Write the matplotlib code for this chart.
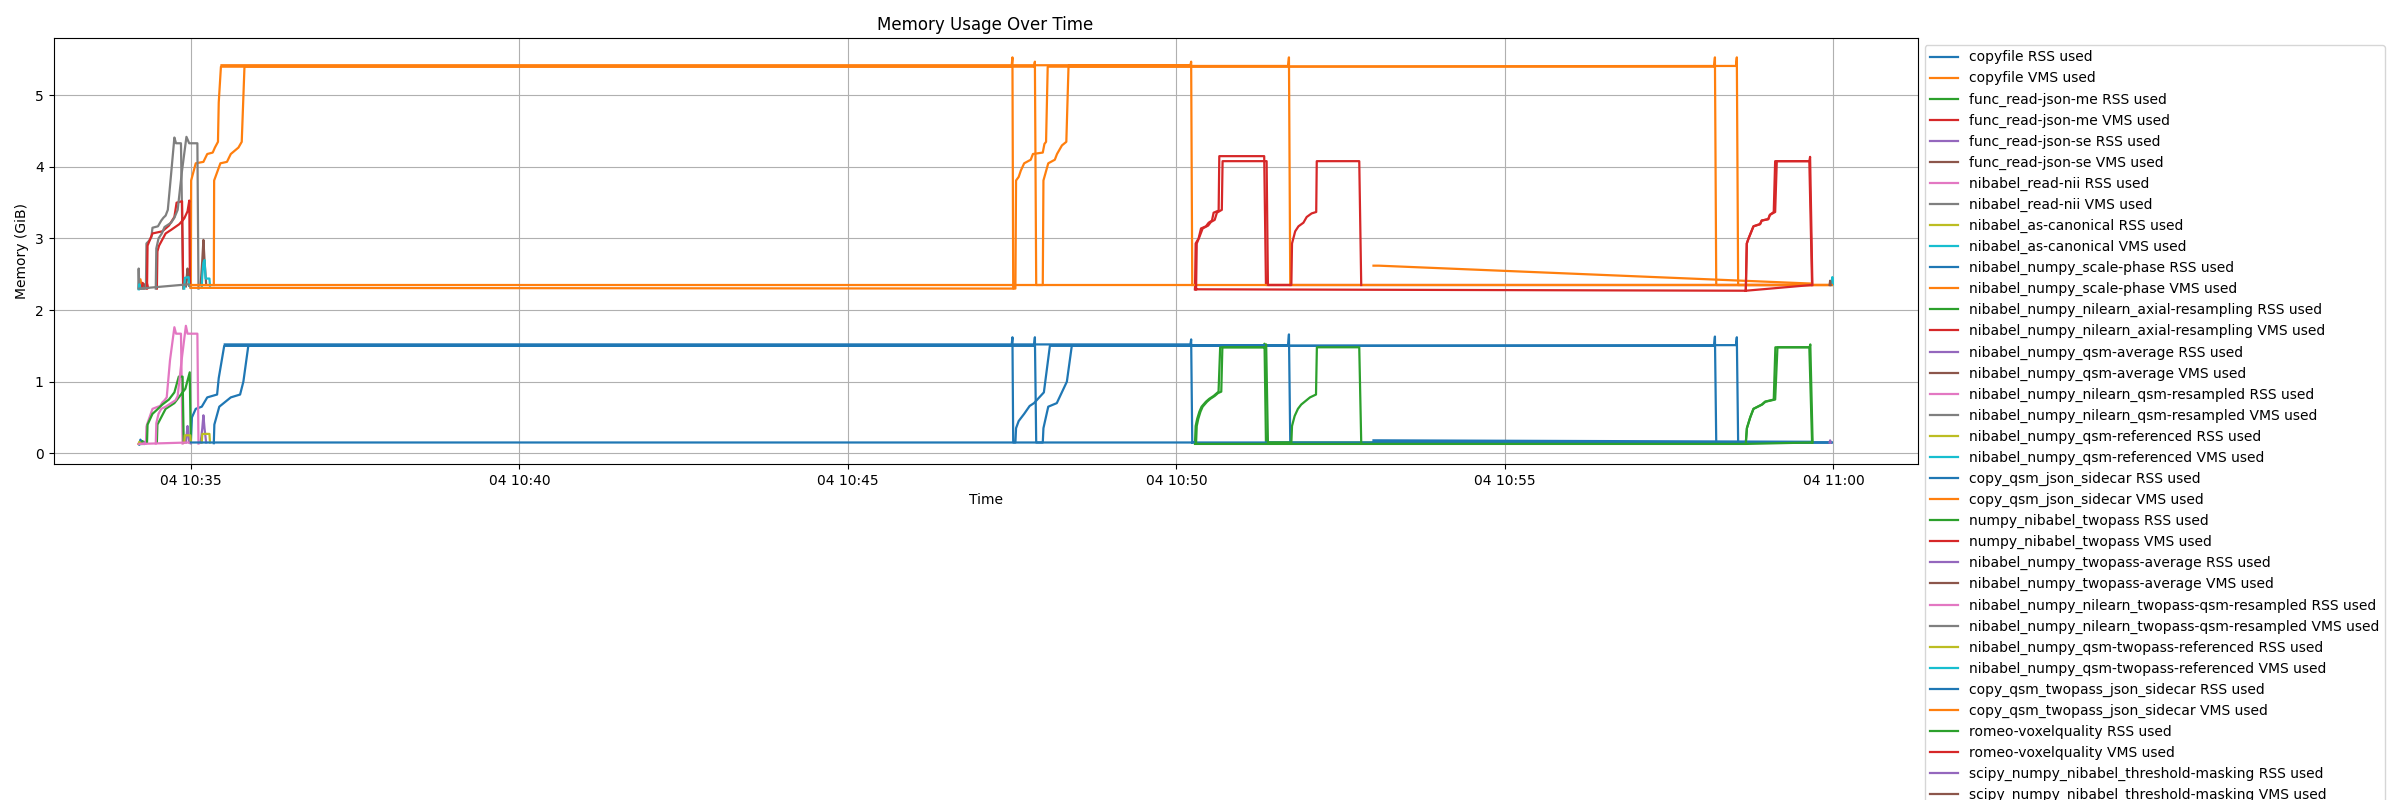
"""Memory usage of the pipeline steps over one run, RSS and VMS per process."""

import matplotlib
matplotlib.use("Agg")
import matplotlib.pyplot as plt
import numpy as np
import pandas as pd

DAY = "2024-06-04"
GAP = None  # missing sample -> break in the line

# (time, GiB) samples per process
COPYFILE_RSS = [("10:34:13", 0.12), ("10:34:14", 0.19), ("10:34:15", 0.14)]
COPYFILE_VMS = [("10:34:13", 2.30), ("10:34:14", 2.43), ("10:34:15.5", 2.31)]

JSON_ME_RSS = [("10:34:15", 0.13), ("10:34:16", 0.17), ("10:34:17", 0.14)]
JSON_ME_VMS = [("10:34:15", 2.30), ("10:34:16", 2.38), ("10:34:18", 2.33),
               ("10:34:20", 2.37), ("10:34:21", 2.31)]

JSON_SE_RSS = [("10:34:17", 0.13), ("10:34:18", 0.16), ("10:34:19", 0.14)]
JSON_SE_VMS = [("10:34:17", 2.30), ("10:34:18", 2.36), ("10:34:19", 2.31)]

READ_NII_RSS = [("10:34:12", 0.13), ("10:34:19", 0.135), ("10:34:19.5", 0.37),
                ("10:34:20", 0.40), ("10:34:25", 0.62), ("10:34:30", 0.65),
                ("10:34:32", 0.66), ("10:34:34", 0.71), ("10:34:36", 0.74),
                ("10:34:38", 0.78), ("10:34:41", 1.30), ("10:34:45", 1.76),
                ("10:34:46.5", 1.67), ("10:34:51", 1.67), ("10:34:52.5", 0.135)]
READ_NII_VMS = [("10:34:12", 2.30), ("10:34:12.4", 2.58), ("10:34:13", 2.30),
                ("10:34:19", 2.30), ("10:34:19.5", 2.93), ("10:34:22", 2.97),
                ("10:34:24", 3.02), ("10:34:25", 3.15), ("10:34:30", 3.17),
                ("10:34:33", 3.25), ("10:34:35", 3.29), ("10:34:37", 3.32),
                ("10:34:39", 3.40), ("10:34:42", 3.90), ("10:34:45", 4.41),
                ("10:34:46.5", 4.33), ("10:34:51", 4.33), ("10:34:53", 2.30)]

CANONICAL_RSS = [("10:34:12.5", 0.13), ("10:34:13", 0.16), ("10:34:14", 0.14)]
CANONICAL_VMS = [("10:34:12.5", 2.29), ("10:34:13", 2.36), ("10:34:14", 2.30),
                 ("10:34:15", GAP),
                 ("10:59:58.5", 2.35), ("10:59:59", 2.46), ("10:59:59.5", 2.36)]

SCALE_PHASE_RSS = [("10:35:00", 0.14), ("10:35:01", 0.50), ("10:35:04.5", 0.62),
                   ("10:35:10", 0.65), ("10:35:15", 0.78), ("10:35:24", 0.82),
                   ("10:35:25.5", 1.05), ("10:35:30.5", 1.50), ("10:47:29.5", 1.50),
                   ("10:47:30.3", 1.62), ("10:47:31", 0.15), ("10:47:33", 0.15),
                   ("10:47:33.6", 0.35), ("10:47:36", 0.45), ("10:47:41", 0.55),
                   ("10:47:46", 0.66), ("10:47:50", 0.70), ("10:47:59", 0.85),
                   ("10:48:04.5", 1.50), ("10:58:11", 1.50), ("10:58:11.8", 1.63),
                   ("10:58:13", 0.15), ("10:59:58.5", 0.15)]
SCALE_PHASE_VMS = [("10:35:00", 2.31), ("10:35:00.3", 3.81), ("10:35:04.5", 4.05),
                   ("10:35:11.5", 4.07), ("10:35:15", 4.18), ("10:35:20", 4.20),
                   ("10:35:22", 4.27), ("10:35:24.8", 4.35), ("10:35:25.5", 4.90),
                   ("10:35:27.5", 5.40), ("10:47:29.5", 5.40), ("10:47:30.3", 5.53),
                   ("10:47:31", 2.30), ("10:47:33", 2.30), ("10:47:33.6", 3.81),
                   ("10:47:36", 3.86), ("10:47:38", 3.95), ("10:47:41", 4.05),
                   ("10:47:47", 4.10), ("10:47:49", 4.18), ("10:47:58", 4.20),
                   ("10:47:59.5", 4.32), ("10:48:01", 4.35), ("10:48:02.5", 5.40),
                   ("10:58:11", 5.40), ("10:58:11.8", 5.53), ("10:58:13", 2.35),
                   ("10:59:58.5", 2.35)]

AXIAL_RSS = [("10:34:20", 0.15), ("10:34:20.5", 0.40), ("10:34:25", 0.55),
             ("10:34:30", 0.62), ("10:34:34", 0.68), ("10:34:40", 0.75),
             ("10:34:45", 0.85), ("10:34:49", 1.07), ("10:34:52.5", 1.07),
             ("10:34:53.5", 0.15), ("10:34:54", GAP),
             ("10:34:29", 0.15), ("10:34:29.5", 0.40), ("10:34:37", 0.62),
             ("10:34:45", 0.70), ("10:34:50", 0.80), ("10:34:55", 0.90),
             ("10:34:59", 1.13), ("10:35:00", 0.15)]
AXIAL_VMS = [("10:34:20", 2.30), ("10:34:20.5", 2.90), ("10:34:25", 3.07),
             ("10:34:34", 3.10), ("10:34:40", 3.18), ("10:34:45", 3.30),
             ("10:34:47", 3.50), ("10:34:52", 3.52), ("10:34:53", 2.35),
             ("10:34:54", GAP),
             ("10:34:29", 2.30), ("10:34:29.5", 2.82), ("10:34:31", 2.90),
             ("10:34:37", 3.07), ("10:34:42", 3.12), ("10:34:49.5", 3.20),
             ("10:34:54", 3.28), ("10:34:57", 3.38), ("10:34:58.6", 3.53),
             ("10:34:59.2", 2.35)]

QSM_AVERAGE_RSS = [("10:34:55.5", 0.15), ("10:34:56.5", 0.30), ("10:34:57", 0.38),
                   ("10:34:57.8", 0.28), ("10:34:58.5", 0.15)]
QSM_AVERAGE_VMS = [("10:34:55.5", 2.33), ("10:34:56.5", 2.50), ("10:34:57", 2.58),
                   ("10:34:57.8", 2.48), ("10:34:58.5", 2.34)]

QSM_RESAMPLED_RSS = [("10:34:28", 0.135), ("10:34:28.5", 0.42), ("10:34:30.5", 0.55),
                     ("10:34:33", 0.62), ("10:34:37", 0.65), ("10:34:43", 0.71),
                     ("10:34:46", 0.74), ("10:34:48", 0.80), ("10:34:52", 1.35),
                     ("10:34:55.5", 1.78), ("10:34:57", 1.67), ("10:35:06", 1.67),
                     ("10:35:07", 0.135)]
QSM_RESAMPLED_VMS = [("10:34:28", 2.30), ("10:34:28.5", 2.86), ("10:34:30.5", 3.00),
                     ("10:34:33.5", 3.07), ("10:34:36", 3.16), ("10:34:42", 3.22),
                     ("10:34:45", 3.29), ("10:34:48", 3.40), ("10:34:52", 3.95),
                     ("10:34:56", 4.42), ("10:34:58.5", 4.33), ("10:35:06", 4.33),
                     ("10:35:07", 2.30)]

QSM_REFERENCED_RSS = [("10:34:54", 0.15), ("10:34:54.5", 0.25), ("10:34:59.5", 0.25),
                      ("10:35:00", 0.15)]
QSM_REFERENCED_VMS = [("10:34:54", 2.30), ("10:34:54.5", 2.45), ("10:34:58", 2.46),
                      ("10:34:58.5", 2.34)]

SIDECAR_RSS = [("10:35:21", 0.14), ("10:35:21.5", 0.40), ("10:35:26", 0.65),
               ("10:35:36.5", 0.78), ("10:35:45", 0.82), ("10:35:48", 1.00),
               ("10:35:52.5", 1.50), ("10:47:50", 1.50), ("10:47:50.8", 1.62),
               ("10:47:52", 0.15), ("10:47:58", 0.15), ("10:47:58.6", 0.35),
               ("10:48:03", 0.65), ("10:48:10.8", 0.70), ("10:48:20", 1.00),
               ("10:48:24.5", 1.50), ("10:58:31", 1.51), ("10:58:31.8", 1.62),
               ("10:58:33", 0.15), ("10:59:58", 0.15)]
SIDECAR_VMS = [("10:35:21", 2.35), ("10:35:21.3", 3.81), ("10:35:27", 4.05),
               ("10:35:33", 4.07), ("10:35:36.5", 4.18), ("10:35:43.5", 4.27),
               ("10:35:46.5", 4.35), ("10:35:49", 5.40), ("10:47:50", 5.40),
               ("10:47:50.8", 5.47), ("10:47:52", 2.35), ("10:47:58", 2.35),
               ("10:47:58.6", 3.81), ("10:48:03", 4.05), ("10:48:09", 4.10),
               ("10:48:11", 4.18), ("10:48:15.5", 4.30), ("10:48:19.5", 4.35),
               ("10:48:21.5", 5.40), ("10:58:31", 5.41), ("10:58:31.8", 5.53),
               ("10:58:33", 2.35), ("10:59:58", 2.35)]

TWOPASS_RSS = [("10:50:17", 0.15), ("10:50:17.6", 0.38), ("10:50:19", 0.48),
               ("10:50:21", 0.58), ("10:50:23", 0.65), ("10:50:27", 0.72),
               ("10:50:30", 0.76), ("10:50:34", 0.80), ("10:50:37", 0.84),
               ("10:50:38.5", 0.86), ("10:50:40", 1.48), ("10:51:20", 1.48),
               ("10:51:20.5", 1.53), ("10:51:21.8", 0.15), ("10:59:40", 0.15),
               ("10:59:41", GAP),
               ("10:58:40", 0.15), ("10:58:41", 0.35), ("10:58:44", 0.50),
               ("10:58:47", 0.62), ("10:58:54.5", 0.68), ("10:58:57.5", 0.72),
               ("10:59:05.5", 0.75), ("10:59:07", 1.48), ("10:59:38", 1.48),
               ("10:59:40.5", 0.15)]
TWOPASS_VMS = [("10:50:17", 2.29), ("10:50:17.6", 2.93), ("10:50:20.3", 3.00),
               ("10:50:22.5", 3.14), ("10:50:27", 3.17), ("10:50:29.5", 3.22),
               ("10:50:32.5", 3.25), ("10:50:34", 3.36), ("10:50:38.6", 3.39),
               ("10:50:39.2", 4.15), ("10:51:20.2", 4.15), ("10:51:21.8", 2.35),
               ("10:59:40", 2.35), ("10:59:41", GAP),
               ("10:58:40", 2.28), ("10:58:40.9", 2.93), ("10:58:42.5", 3.00),
               ("10:58:47", 3.17), ("10:58:53", 3.20), ("10:58:54.5", 3.25),
               ("10:59:00.5", 3.27), ("10:59:02", 3.33), ("10:59:05.5", 3.37),
               ("10:59:06.8", 4.08), ("10:59:38", 4.08), ("10:59:40.5", 2.35)]

TWOPASS_AVERAGE_RSS = [("10:35:09", 0.15), ("10:35:10.5", 0.35), ("10:35:11.5", 0.53),
                       ("10:35:12.5", 0.35), ("10:35:14", 0.15)]
TWOPASS_AVERAGE_VMS = [("10:35:09", 2.35), ("10:35:10.5", 2.70), ("10:35:11.5", 2.98),
                       ("10:35:12.5", 2.70), ("10:35:14", 2.36)]

TWOPASS_RESAMPLED_RSS = [("10:34:13", 0.13), ("10:34:58", 0.15), ("10:35:00", 0.14)]
TWOPASS_RESAMPLED_VMS = [("10:34:13", 2.30), ("10:34:58", 2.36), ("10:35:00", 2.31)]

TWOPASS_REFERENCED_RSS = [("10:35:10", 0.15), ("10:35:10.5", 0.27), ("10:35:17", 0.27),
                          ("10:35:17.5", 0.15)]
TWOPASS_REFERENCED_VMS = [("10:35:10", 2.33), ("10:35:10.5", 2.48), ("10:35:11.5", 2.66),
                          ("10:35:12.5", 2.70), ("10:35:13.5", 2.44), ("10:35:17", 2.44),
                          ("10:35:17.5", 2.34)]

TWOPASS_SIDECAR_RSS = [("10:35:00", 0.15), ("10:59:58", 0.15), ("10:59:58.5", GAP),
                       ("10:35:31", 1.52), ("10:50:12.8", 1.52), ("10:50:13.5", 1.59),
                       ("10:50:14.5", 0.15), ("10:50:15", GAP),
                       ("10:48:25", 1.51), ("10:51:42", 1.51), ("10:51:42.8", 1.66),
                       ("10:51:44", 0.15), ("10:51:44.5", GAP),
                       ("10:53:00", 0.18), ("10:53:05", 0.18), ("10:59:40", 0.16)]
TWOPASS_SIDECAR_VMS = [("10:35:00", 2.35), ("10:59:58", 2.35), ("10:59:58.5", GAP),
                       ("10:35:00", 2.31), ("10:47:31", 2.30), ("10:47:31.5", GAP),
                       ("10:35:28", 5.42), ("10:50:12.8", 5.42), ("10:50:13.5", 5.47),
                       ("10:50:14.5", 2.35), ("10:50:15", GAP),
                       ("10:48:22", 5.41), ("10:51:42", 5.41), ("10:51:42.8", 5.53),
                       ("10:51:44", 2.35), ("10:51:44.5", GAP),
                       ("10:53:00", 2.62), ("10:53:05", 2.62), ("10:59:40", 2.37)]

ROMEO_RSS = [("10:50:18", 0.15), ("10:50:18.6", 0.38), ("10:50:20", 0.48),
             ("10:50:22", 0.58), ("10:50:24", 0.65), ("10:50:28", 0.72),
             ("10:50:31", 0.76), ("10:50:35", 0.80), ("10:50:38", 0.84),
             ("10:50:41", 0.86), ("10:50:42", 1.48), ("10:51:21.5", 1.48),
             ("10:51:22", 1.52), ("10:51:23.6", 0.15), ("10:51:45", 0.15),
             ("10:51:45.6", 0.38), ("10:51:48", 0.52), ("10:51:51", 0.62),
             ("10:51:54", 0.68), ("10:51:58", 0.73), ("10:52:02", 0.78),
             ("10:52:07.5", 0.82), ("10:52:08.3", 1.48), ("10:52:47", 1.48),
             ("10:52:48.8", 0.15), ("10:52:49", GAP),
             ("10:50:17", 0.13), ("10:58:40", 0.13), ("10:59:40", 0.15),
             ("10:59:41", GAP),
             ("10:58:40", 0.14), ("10:58:41", 0.35), ("10:58:44", 0.50),
             ("10:58:47", 0.62), ("10:58:55", 0.68), ("10:58:58", 0.72),
             ("10:59:06.8", 0.75), ("10:59:08.9", 1.48), ("10:59:38.3", 1.48),
             ("10:59:38.9", 1.52), ("10:59:41", 0.15)]
ROMEO_VMS = [("10:50:18", 2.29), ("10:50:18.6", 2.93), ("10:50:21", 3.02),
             ("10:50:24", 3.14), ("10:50:29", 3.18), ("10:50:31.5", 3.23),
             ("10:50:35", 3.26), ("10:50:37", 3.36), ("10:50:41.5", 3.40),
             ("10:50:42.2", 4.08), ("10:51:22.4", 4.08), ("10:51:23.6", 2.35),
             ("10:51:45", 2.35), ("10:51:45.6", 2.93), ("10:51:48.5", 3.10),
             ("10:51:51.5", 3.17), ("10:51:56", 3.22), ("10:51:59", 3.30),
             ("10:52:03.5", 3.35), ("10:52:07.7", 3.37), ("10:52:08.2", 4.08),
             ("10:52:47", 4.08), ("10:52:48.8", 2.35), ("10:52:49", GAP),
             ("10:50:17", 2.29), ("10:58:40", 2.27), ("10:59:40", 2.35),
             ("10:59:41", GAP),
             ("10:58:40", 2.27), ("10:58:40.9", 2.93), ("10:58:42.5", 3.00),
             ("10:58:47", 3.17), ("10:58:53", 3.20), ("10:58:54.5", 3.25),
             ("10:59:00.5", 3.27), ("10:59:02", 3.33), ("10:59:06.8", 3.37),
             ("10:59:08.3", 4.08), ("10:59:38", 4.08), ("10:59:38.7", 4.14),
             ("10:59:40.8", 2.35)]

MASKING_RSS = [("10:59:56.5", 0.15), ("10:59:57", 0.18), ("10:59:57.5", 0.15)]
MASKING_VMS = [("10:59:56.5", 2.35), ("10:59:57", 2.41), ("10:59:57.5", 2.35)]

SERIES = [
    ("copyfile RSS used", COPYFILE_RSS),
    ("copyfile VMS used", COPYFILE_VMS),
    ("func_read-json-me RSS used", JSON_ME_RSS),
    ("func_read-json-me VMS used", JSON_ME_VMS),
    ("func_read-json-se RSS used", JSON_SE_RSS),
    ("func_read-json-se VMS used", JSON_SE_VMS),
    ("nibabel_read-nii RSS used", READ_NII_RSS),
    ("nibabel_read-nii VMS used", READ_NII_VMS),
    ("nibabel_as-canonical RSS used", CANONICAL_RSS),
    ("nibabel_as-canonical VMS used", CANONICAL_VMS),
    ("nibabel_numpy_scale-phase RSS used", SCALE_PHASE_RSS),
    ("nibabel_numpy_scale-phase VMS used", SCALE_PHASE_VMS),
    ("nibabel_numpy_nilearn_axial-resampling RSS used", AXIAL_RSS),
    ("nibabel_numpy_nilearn_axial-resampling VMS used", AXIAL_VMS),
    ("nibabel_numpy_qsm-average RSS used", QSM_AVERAGE_RSS),
    ("nibabel_numpy_qsm-average VMS used", QSM_AVERAGE_VMS),
    ("nibabel_numpy_nilearn_qsm-resampled RSS used", QSM_RESAMPLED_RSS),
    ("nibabel_numpy_nilearn_qsm-resampled VMS used", QSM_RESAMPLED_VMS),
    ("nibabel_numpy_qsm-referenced RSS used", QSM_REFERENCED_RSS),
    ("nibabel_numpy_qsm-referenced VMS used", QSM_REFERENCED_VMS),
    ("copy_qsm_json_sidecar RSS used", SIDECAR_RSS),
    ("copy_qsm_json_sidecar VMS used", SIDECAR_VMS),
    ("numpy_nibabel_twopass RSS used", TWOPASS_RSS),
    ("numpy_nibabel_twopass VMS used", TWOPASS_VMS),
    ("nibabel_numpy_twopass-average RSS used", TWOPASS_AVERAGE_RSS),
    ("nibabel_numpy_twopass-average VMS used", TWOPASS_AVERAGE_VMS),
    ("nibabel_numpy_nilearn_twopass-qsm-resampled RSS used", TWOPASS_RESAMPLED_RSS),
    ("nibabel_numpy_nilearn_twopass-qsm-resampled VMS used", TWOPASS_RESAMPLED_VMS),
    ("nibabel_numpy_qsm-twopass-referenced RSS used", TWOPASS_REFERENCED_RSS),
    ("nibabel_numpy_qsm-twopass-referenced VMS used", TWOPASS_REFERENCED_VMS),
    ("copy_qsm_twopass_json_sidecar RSS used", TWOPASS_SIDECAR_RSS),
    ("copy_qsm_twopass_json_sidecar VMS used", TWOPASS_SIDECAR_VMS),
    ("romeo-voxelquality RSS used", ROMEO_RSS),
    ("romeo-voxelquality VMS used", ROMEO_VMS),
    ("scipy_numpy_nibabel_threshold-masking RSS used", MASKING_RSS),
    ("scipy_numpy_nibabel_threshold-masking VMS used", MASKING_VMS),
]


def to_arrays(points):
    times = pd.to_datetime([f"{DAY} {p[0]}" for p in points], format="ISO8601")
    values = np.array([p[1] for p in points], dtype=float)
    return times, values


fig, ax = plt.subplots(figsize=(24, 8), dpi=100)

for label, points in SERIES:
    t, v = to_arrays(points)
    ax.plot(t, v, label=label, linewidth=1.6)

ax.set_title("Memory Usage Over Time")
ax.set_xlabel("Time")
ax.set_ylabel("Memory (GiB)")
ax.grid(True)
ax.legend(loc="upper left", bbox_to_anchor=(1, 1))

fig.subplots_adjust(left=0.0223, right=0.799, bottom=0.42, top=0.9525)
fig.savefig("out.png", dpi=100)
